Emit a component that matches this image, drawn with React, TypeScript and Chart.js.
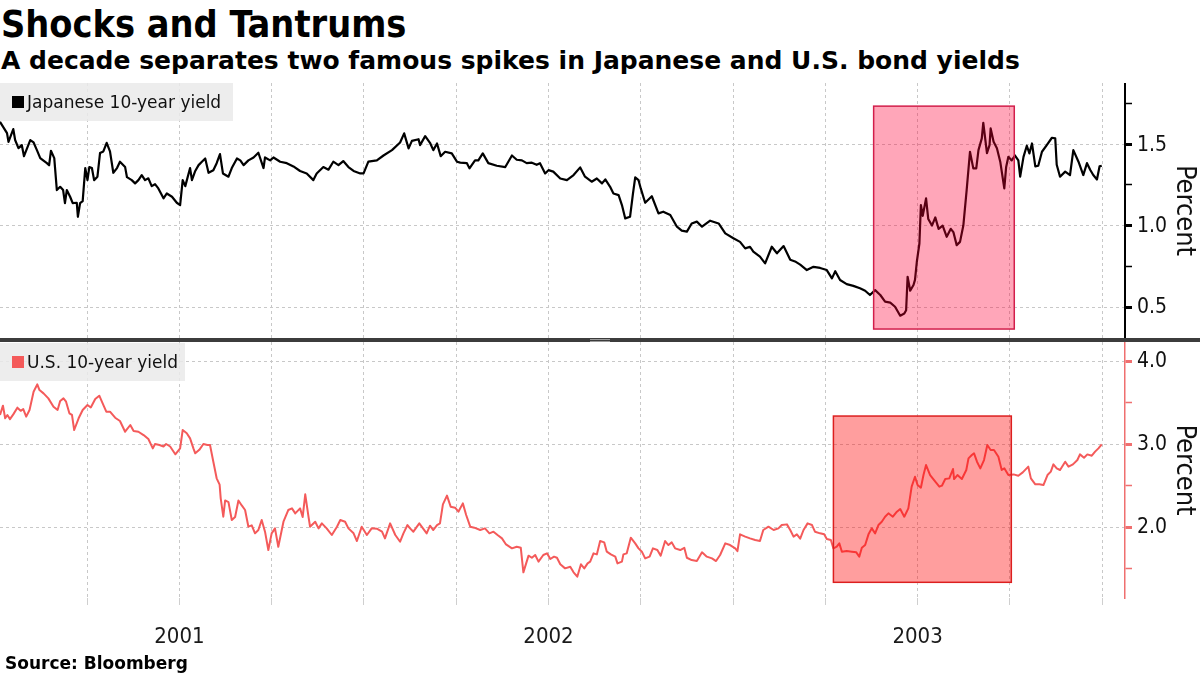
import React, { useEffect, useRef } from "react";
import { Chart, registerables } from "chart.js";

Chart.register(...registerables);

const FONT = '"DejaVu Sans Condensed", "DejaVu Sans", sans-serif';
const FONT_WIDE = '"DejaVu Sans", sans-serif';

// ---- Data (dates as fractional years) ----
const jpDates = [
  2001.014, 2001.033, 2001.037, 2001.05, 2001.055, 2001.064, 2001.073, 2001.079, 2001.096, 2001.105,
  2001.114, 2001.123, 2001.131, 2001.141, 2001.147, 2001.152, 2001.161, 2001.168, 2001.177, 2001.185,
  2001.19, 2001.195, 2001.204, 2001.211, 2001.222, 2001.225, 2001.231, 2001.238, 2001.245, 2001.251,
  2001.256, 2001.263, 2001.269, 2001.278, 2001.285, 2001.294, 2001.303, 2001.312, 2001.321, 2001.331,
  2001.339, 2001.353, 2001.358, 2001.371, 2001.38, 2001.389, 2001.398, 2001.407, 2001.416, 2001.425,
  2001.434, 2001.443, 2001.457, 2001.466, 2001.48, 2001.493, 2001.502, 2001.509, 2001.516, 2001.529,
  2001.534, 2001.543, 2001.552, 2001.561, 2001.57, 2001.579, 2001.592, 2001.601, 2001.61, 2001.618,
  2001.633, 2001.642, 2001.656, 2001.665, 2001.674, 2001.687, 2001.701, 2001.714, 2001.728, 2001.732,
  2001.746, 2001.755, 2001.773, 2001.791, 2001.809, 2001.827, 2001.845, 2001.863, 2001.872, 2001.89,
  2001.904, 2001.917, 2001.931, 2001.944, 2001.958, 2001.972, 2001.99, 2001.999, 2002.012, 2002.035,
  2002.053, 2002.076, 2002.098, 2002.109, 2002.121, 2002.13, 2002.148, 2002.152, 2002.166, 2002.179,
  2002.188, 2002.198, 2002.208, 2002.22, 2002.238, 2002.252, 2002.261, 2002.279, 2002.286, 2002.301,
  2002.31, 2002.322, 2002.337, 2002.36, 2002.383, 2002.401, 2002.414, 2002.428, 2002.441, 2002.455,
  2002.468, 2002.477, 2002.491, 2002.5, 2002.513, 2002.532, 2002.55, 2002.568, 2002.586, 2002.599,
  2002.617, 2002.631, 2002.645, 2002.654, 2002.667, 2002.676, 2002.69, 2002.699, 2002.708, 2002.721,
  2002.729, 2002.735, 2002.744, 2002.75, 2002.762, 2002.78, 2002.798, 2002.811, 2002.83, 2002.848,
  2002.861, 2002.875, 2002.888, 2002.902, 2002.916, 2002.938, 2002.961, 2002.979, 2003.001, 2003.019,
  2003.033, 2003.046, 2003.055, 2003.073, 2003.087, 2003.105, 2003.119, 2003.137, 2003.155, 2003.168,
  2003.182, 2003.2, 2003.218, 2003.236, 2003.254, 2003.268, 2003.277, 2003.29, 2003.308, 2003.326,
  2003.344, 2003.358, 2003.371, 2003.385, 2003.399, 2003.412, 2003.426, 2003.439, 2003.453, 2003.464,
  2003.469, 2003.473, 2003.48, 2003.489, 2003.493, 2003.498, 2003.505, 2003.509, 2003.514, 2003.523,
  2003.529, 2003.539, 2003.548, 2003.557, 2003.568, 2003.579, 2003.59, 2003.597, 2003.606, 2003.615,
  2003.624, 2003.633, 2003.642, 2003.651, 2003.659, 2003.665, 2003.674, 2003.678, 2003.688, 2003.695,
  2003.698, 2003.706, 2003.715, 2003.724, 2003.735, 2003.74, 2003.746, 2003.755, 2003.764, 2003.773,
  2003.778, 2003.787, 2003.796, 2003.803, 2003.81, 2003.819, 2003.827, 2003.837, 2003.85, 2003.864,
  2003.873, 2003.877, 2003.886, 2003.9, 2003.913, 2003.922, 2003.936, 2003.949, 2003.959, 2003.968,
  2003.976, 2003.986, 2003.993, 2003.999,
];
const jpYield = [
  1.637, 1.567, 1.514, 1.592, 1.525, 1.475, 1.494, 1.426, 1.525, 1.51,
  1.463, 1.414, 1.4, 1.383, 1.37, 1.459, 1.414, 1.218, 1.238, 1.218,
  1.138, 1.218, 1.177, 1.138, 1.14, 1.054, 1.138, 1.15, 1.353, 1.279,
  1.359, 1.353, 1.279, 1.3, 1.445, 1.455, 1.508, 1.455, 1.324, 1.353,
  1.392, 1.359, 1.297, 1.279, 1.259, 1.279, 1.31, 1.279, 1.29, 1.242,
  1.254, 1.228, 1.167, 1.197, 1.177, 1.14, 1.126, 1.279, 1.242, 1.353,
  1.279, 1.335, 1.371, 1.392, 1.412, 1.324, 1.34, 1.383, 1.439, 1.32,
  1.3, 1.353, 1.412, 1.4, 1.371, 1.4, 1.418, 1.447, 1.353, 1.418,
  1.4, 1.418, 1.392, 1.383, 1.363, 1.335, 1.32, 1.279, 1.32, 1.359,
  1.343, 1.392, 1.371, 1.396, 1.359, 1.335, 1.32, 1.32, 1.392, 1.4,
  1.43, 1.463, 1.51, 1.566, 1.474, 1.52, 1.53, 1.494, 1.549, 1.508,
  1.463, 1.504, 1.426, 1.453, 1.443, 1.392, 1.386, 1.383, 1.351, 1.4,
  1.4, 1.443, 1.383, 1.367, 1.359, 1.43, 1.404, 1.4, 1.383, 1.386,
  1.373, 1.383, 1.32, 1.34, 1.331, 1.289, 1.279, 1.31, 1.357, 1.3,
  1.269, 1.289, 1.259, 1.283, 1.238, 1.197, 1.187, 1.126, 1.044, 1.054,
  1.197, 1.296, 1.279, 1.228, 1.14, 1.18, 1.075, 1.085, 1.065, 0.993,
  0.969, 0.963, 1.013, 1.024, 0.993, 1.03, 1.013, 0.952, 0.922, 0.9,
  0.86, 0.87, 0.84, 0.809, 0.768, 0.87, 0.83, 0.874, 0.79, 0.78,
  0.76, 0.727, 0.747, 0.74, 0.727, 0.676, 0.72, 0.666, 0.641, 0.63,
  0.615, 0.6, 0.574, 0.604, 0.574, 0.533, 0.527, 0.502, 0.447, 0.46,
  0.48, 0.686, 0.6, 0.635, 0.667, 0.778, 0.89, 1.126, 1.06, 1.167,
  1.04, 1.0, 1.05, 0.98, 1.0, 0.931, 0.98, 0.96, 0.88, 0.9,
  1.0, 1.218, 1.453, 1.351, 1.351, 1.463, 1.535, 1.631, 1.445, 1.494,
  1.596, 1.514, 1.474, 1.392, 1.228, 1.36, 1.422, 1.4, 1.43, 1.4,
  1.3, 1.422, 1.49, 1.443, 1.504, 1.363, 1.367, 1.453, 1.494, 1.539,
  1.535, 1.373, 1.3, 1.331, 1.31, 1.463, 1.392, 1.31, 1.383, 1.341,
  1.31, 1.283, 1.363, 1.367,
];

const usDates = [
  2001.014, 2001.022, 2001.028, 2001.034, 2001.041, 2001.05, 2001.061, 2001.07, 2001.077, 2001.085,
  2001.094, 2001.105, 2001.115, 2001.121, 2001.132, 2001.145, 2001.159, 2001.17, 2001.177, 2001.186,
  2001.193, 2001.202, 2001.209, 2001.215, 2001.227, 2001.238, 2001.251, 2001.26, 2001.272, 2001.283,
  2001.293, 2001.302, 2001.312, 2001.326, 2001.339, 2001.353, 2001.367, 2001.376, 2001.389, 2001.403,
  2001.416, 2001.428, 2001.434, 2001.446, 2001.457, 2001.464, 2001.475, 2001.489, 2001.502, 2001.509,
  2001.52, 2001.529, 2001.538, 2001.543, 2001.554, 2001.565, 2001.576, 2001.583, 2001.592, 2001.601,
  2001.609, 2001.612, 2001.619, 2001.624, 2001.633, 2001.642, 2001.651, 2001.66, 2001.669, 2001.678,
  2001.687, 2001.696, 2001.705, 2001.714, 2001.723, 2001.732, 2001.741, 2001.75, 2001.759, 2001.768,
  2001.782, 2001.795, 2001.805, 2001.814, 2001.827, 2001.834, 2001.841, 2001.85, 2001.854, 2001.868,
  2001.877, 2001.886, 2001.899, 2001.913, 2001.927, 2001.936, 2001.949, 2001.958, 2001.972, 2001.981,
  2001.994, 2002.008, 2002.021, 2002.035, 2002.049, 2002.057, 2002.071, 2002.085, 2002.098, 2002.107,
  2002.118, 2002.125, 2002.134, 2002.15, 2002.16, 2002.17, 2002.179, 2002.188, 2002.198, 2002.206,
  2002.214, 2002.225, 2002.235, 2002.247, 2002.256, 2002.268, 2002.277, 2002.288, 2002.299, 2002.315,
  2002.328, 2002.34, 2002.351, 2002.362, 2002.374, 2002.385, 2002.401, 2002.414, 2002.425, 2002.432,
  2002.446, 2002.455, 2002.464, 2002.473, 2002.486, 2002.496, 2002.505, 2002.515, 2002.523, 2002.532,
  2002.545, 2002.559, 2002.568, 2002.578, 2002.588, 2002.597, 2002.606, 2002.613, 2002.622, 2002.631,
  2002.64, 2002.651, 2002.658, 2002.669, 2002.681, 2002.687, 2002.699, 2002.703, 2002.712, 2002.723,
  2002.735, 2002.744, 2002.753, 2002.762, 2002.774, 2002.783, 2002.795, 2002.804, 2002.816, 2002.825,
  2002.834, 2002.843, 2002.857, 2002.868, 2002.875, 2002.888, 2002.902, 2002.916, 2002.929, 2002.943,
  2002.954, 2002.965, 2002.979, 2002.992, 2003.006, 2003.012, 2003.019, 2003.033, 2003.046, 2003.06,
  2003.073, 2003.082, 2003.096, 2003.11, 2003.123, 2003.132, 2003.146, 2003.155, 2003.164, 2003.173,
  2003.182, 2003.191, 2003.202, 2003.214, 2003.222, 2003.236, 2003.247, 2003.254, 2003.265, 2003.272,
  2003.281, 2003.288, 2003.295, 2003.308, 2003.322, 2003.334, 2003.342, 2003.349, 2003.358, 2003.367,
  2003.376, 2003.385, 2003.394, 2003.403, 2003.412, 2003.421, 2003.433, 2003.444, 2003.453, 2003.464,
  2003.475, 2003.484, 2003.493, 2003.5, 2003.509, 2003.516, 2003.523, 2003.534, 2003.548, 2003.559,
  2003.566, 2003.575, 2003.586, 2003.596, 2003.599, 2003.608, 2003.62, 2003.632, 2003.638, 2003.647,
  2003.653, 2003.661, 2003.67, 2003.68, 2003.689, 2003.698, 2003.707, 2003.719, 2003.728, 2003.735,
  2003.746, 2003.76, 2003.773, 2003.785, 2003.8, 2003.807, 2003.819, 2003.83, 2003.841, 2003.852,
  2003.861, 2003.868, 2003.877, 2003.886, 2003.9, 2003.909, 2003.921, 2003.933, 2003.94, 2003.951,
  2003.96, 2003.972, 2003.981, 2003.99, 2003.999,
];
const usYield = [
  3.349, 3.462, 3.31, 3.349, 3.3, 3.357, 3.438, 3.4, 3.42, 3.33,
  3.41, 3.63, 3.719, 3.65, 3.61, 3.55, 3.45, 3.41, 3.518, 3.55,
  3.51, 3.37, 3.35, 3.169, 3.31, 3.41, 3.47, 3.44, 3.542, 3.582,
  3.48, 3.39, 3.39, 3.317, 3.277, 3.148, 3.229, 3.157, 3.148, 3.108,
  3.06, 2.948, 3.0, 2.988, 2.97, 3.0, 2.97, 2.876, 2.948, 3.169,
  3.13, 3.068, 2.948, 2.888, 2.93, 3.0, 2.988, 2.988, 2.787, 2.587,
  2.51, 2.346, 2.124, 2.32, 2.3, 2.084, 2.12, 2.32, 2.26, 2.205,
  2.004, 2.02, 1.924, 1.964, 2.084, 1.944, 1.723, 1.924, 1.984, 1.763,
  2.064, 2.205, 2.225, 2.165, 2.225, 2.12, 2.394, 2.12, 2.004, 2.064,
  1.984, 2.044, 1.984, 1.904, 2.004, 2.084, 2.064, 1.984, 1.924, 1.831,
  2.004, 1.904, 1.984, 1.98, 1.944, 1.863, 2.044, 1.904, 1.823, 1.924,
  2.024, 1.984, 1.944, 2.044, 1.984, 1.924, 2.016, 1.964, 2.024, 2.044,
  2.273, 2.378, 2.245, 2.233, 2.185, 2.285, 2.145, 2.004, 1.992, 1.964,
  1.984, 1.924, 1.944, 1.904, 1.863, 1.79, 1.743, 1.763, 1.75, 1.454,
  1.655, 1.63, 1.663, 1.583, 1.663, 1.683, 1.615, 1.643, 1.63, 1.551,
  1.502, 1.522, 1.454, 1.402, 1.551, 1.502, 1.562, 1.583, 1.683, 1.67,
  1.831, 1.815, 1.703, 1.67, 1.643, 1.562, 1.583, 1.67, 1.683, 1.871,
  1.803, 1.743, 1.703, 1.622, 1.643, 1.743, 1.723, 1.655, 1.831, 1.783,
  1.815, 1.743, 1.723, 1.75, 1.63, 1.602, 1.59, 1.695, 1.643, 1.622,
  1.59, 1.663, 1.803, 1.783, 1.743, 1.71, 1.912, 1.884, 1.863, 1.843,
  1.831, 1.964, 2.004, 1.964, 1.984, 2.024, 2.032, 1.964, 1.884, 1.912,
  1.86, 1.964, 2.044, 2.024, 1.944, 1.924, 1.912, 1.855, 1.843, 1.743,
  1.763, 1.803, 1.703, 1.71, 1.703, 1.695, 1.643, 1.75, 1.783, 1.912,
  1.984, 1.924, 2.024, 2.064, 2.124, 2.165, 2.124, 2.185, 2.217, 2.124,
  2.225, 2.486, 2.606, 2.506, 2.474, 2.626, 2.747, 2.626, 2.546, 2.486,
  2.498, 2.578, 2.586, 2.699, 2.578, 2.626, 2.578, 2.687, 2.827, 2.867,
  2.888, 2.787, 2.707, 2.807, 2.988, 2.928, 2.928, 2.847, 2.687, 2.707,
  2.626, 2.634, 2.618, 2.658, 2.727, 2.586, 2.514, 2.514, 2.506, 2.626,
  2.667, 2.755, 2.707, 2.687, 2.787, 2.727, 2.755, 2.807, 2.875, 2.835,
  2.875, 2.859, 2.908, 2.948, 2.996,
];

// ---- Axes ----
const xRange = [2001.014, 2004.062];
const quarterTicks = [
  2001.25, 2001.5, 2001.75, 2002.0, 2002.25, 2002.5, 2002.75, 2003.0, 2003.25, 2003.5, 2003.75, 2004.0,
];
const jpRange = [0.31, 1.875];
const jpTicks = [0.5, 0.75, 1.0, 1.25, 1.5, 1.75];
const usRange = [1.145, 4.229];
const usTicks = [1.5, 2.0, 2.5, 3.0, 3.5, 4.0];

// ---- Highlighted episodes ----
const jpShockDates = [2003.381, 2003.762];
const jpShockRange = [0.365, 1.733];
const usTantrumDates = [2003.272, 2003.754];
const usTantrumRange = [1.334, 3.337];

const JP_COLOR = "#000000";
const US_COLOR = "#f45a5a";

function highlightPlugin(id: string, dates: number[], range: number[], fill: string, stroke: string) {
  return {
    id,
    afterDatasetsDraw(chart: any) {
      const { ctx, scales } = chart;
      const x1 = scales.x.getPixelForValue(dates[0]);
      const x2 = scales.x.getPixelForValue(dates[1]);
      const y1 = scales.y.getPixelForValue(range[1]);
      const y2 = scales.y.getPixelForValue(range[0]);
      ctx.save();
      ctx.fillStyle = fill;
      ctx.fillRect(x1, y1, x2 - x1, y2 - y1);
      ctx.strokeStyle = stroke;
      ctx.lineWidth = 1.5;
      ctx.strokeRect(x1, y1, x2 - x1, y2 - y1);
      ctx.restore();
    },
  };
}

const isHalfStep = (v: number) => Math.abs(v * 2 - Math.round(v * 2)) < 1e-6;
const isWhole = (v: number) => Math.abs(v - Math.round(v)) < 1e-6;

function xScale(showLabels: boolean) {
  return {
    type: "linear",
    min: xRange[0],
    max: xRange[1],
    afterBuildTicks: (s: any) => {
      s.ticks = quarterTicks.map((v) => ({ value: v }));
    },
    ticks: {
      display: showLabels,
      autoSkip: false,
      maxRotation: 0,
      minRotation: 0,
      padding: 19,
      color: "#1a1a1a",
      font: { family: FONT, size: 22 },
      callback: (v: any) => {
        const n = Number(v);
        return Math.abs(n - Math.floor(n) - 0.5) < 1e-6 ? String(Math.floor(n)) : "";
      },
    },
    grid: {
      color: "#c8c8c8",
      lineWidth: 1,
      drawTicks: showLabels,
      tickLength: 7,
      tickColor: "#cfcfcf",
    },
    border: { display: false, dash: [3, 3] },
    afterFit: (s: any) => {
      s.height = showLabels ? 77 : 0;
      s.paddingLeft = 0;
      s.paddingRight = 0;
    },
  };
}

function yScale(range: number[], ticks: number[], isMajor: (v: number) => boolean, axisColor: string, axisWidth: number) {
  return {
    type: "linear",
    position: "right",
    min: range[0],
    max: range[1],
    afterBuildTicks: (s: any) => {
      s.ticks = ticks.map((v) => ({ value: v }));
    },
    ticks: {
      padding: 5,
      color: "#111",
      labelOffset: 1,
      font: { family: FONT, size: 21 },
      callback: (v: any) => (isMajor(Number(v)) ? Number(v).toFixed(1) : ""),
    },
    grid: {
      color: (c: any) => (c.tick && isMajor(c.tick.value) ? "#c8c8c8" : "rgba(0,0,0,0)"),
      lineWidth: 1,
      drawTicks: true,
      tickLength: 7,
      tickColor: axisColor,
      tickWidth: (c: any) => (c.tick && isMajor(c.tick.value) ? 3 : 1.5),
    },
    border: { display: true, color: axisColor, width: axisWidth, dash: [3, 3] },
    title: {
      display: true,
      text: "Percent",
      color: "#111",
      font: { family: FONT, size: 27 },
      padding: { top: 0, bottom: 0 },
    },
    afterFit: (s: any) => {
      s.width = 75;
      s.paddingTop = 0;
      s.paddingBottom = 0;
    },
  };
}

function baseOptions(scales: any) {
  return {
    animation: false,
    responsive: true,
    maintainAspectRatio: false,
    layout: { padding: 0 },
    events: [],
    plugins: { legend: { display: false }, tooltip: { enabled: false } },
    scales,
  };
}

export default function App() {
  const topRef = useRef<HTMLCanvasElement>(null);
  const botRef = useRef<HTMLCanvasElement>(null);

  useEffect(() => {
    Chart.defaults.font.family = FONT;
    const top = new Chart(topRef.current as HTMLCanvasElement, {
      type: "line",
      data: {
        datasets: [
          {
            label: "Japanese 10-year yield",
            data: jpDates.map((d, i) => ({ x: d, y: jpYield[i] })),
            borderColor: JP_COLOR,
            borderWidth: 2.2,
            pointRadius: 0,
            tension: 0,
            borderJoinStyle: "round",
          },
        ],
      },
      options: baseOptions({
        x: xScale(false),
        y: yScale(jpRange, jpTicks, isHalfStep, "#000000", 2),
      }) as any,
      plugins: [highlightPlugin("jpShock", jpShockDates, jpShockRange, "rgba(255,0,55,0.35)", "#d21e4b")],
    } as any);

    const bot = new Chart(botRef.current as HTMLCanvasElement, {
      type: "line",
      data: {
        datasets: [
          {
            label: "U.S. 10-year yield",
            data: usDates.map((d, i) => ({ x: d, y: usYield[i] })),
            borderColor: US_COLOR,
            borderWidth: 2,
            pointRadius: 0,
            tension: 0,
            borderJoinStyle: "round",
          },
        ],
      },
      options: baseOptions({
        x: xScale(true),
        y: yScale(usRange, usTicks, isWhole, "#ef6f6f", 1.5),
      }) as any,
      plugins: [highlightPlugin("usTantrum", usTantrumDates, usTantrumRange, "rgba(255,0,0,0.38)", "#dc1f1f")],
    } as any);

    return () => {
      top.destroy();
      bot.destroy();
    };
  }, []);

  const legendBox = (top: number, width: number, color: string, text: string) => (
    <div
      style={{
        position: "absolute",
        left: 0,
        top,
        width,
        height: 38,
        background: "rgba(234,234,234,0.85)",
        zIndex: 2,
      }}
    >
      <div style={{ position: "absolute", left: 12, top: 13, width: 12, height: 12, background: color }} />
      <div
        style={{
          position: "absolute",
          left: 27,
          top: 0,
          lineHeight: "38px",
          fontSize: 17,
          fontFamily: FONT_WIDE,
          color: "#111",
          whiteSpace: "nowrap",
        }}
      >
        {text}
      </div>
    </div>
  );

  return (
    <div
      style={{
        position: "absolute",
        left: 0,
        top: 0,
        width: 1200,
        height: 675,
        background: "#ffffff",
        overflow: "hidden",
        fontFamily: FONT,
        color: "#000",
      }}
    >
      <div
        style={{
          position: "absolute",
          left: 1,
          top: 3,
          fontSize: 37.5,
          fontWeight: "bold",
          lineHeight: "42px",
          whiteSpace: "nowrap",
        }}
      >
        Shocks and Tantrums
      </div>
      <div
        style={{
          position: "absolute",
          left: 1,
          top: 46,
          fontSize: 25,
          fontFamily: FONT_WIDE,
          fontWeight: "bold",
          lineHeight: "30px",
          whiteSpace: "nowrap",
        }}
      >
        A decade separates two famous spikes in Japanese and U.S. bond yields
      </div>

      <div style={{ position: "absolute", left: 0, top: 83, width: 1200, height: 255 }}>
        <canvas ref={topRef} />
      </div>
      {legendBox(83, 233, JP_COLOR, "Japanese 10-year yield")}

      <div style={{ position: "absolute", left: 0, top: 338, width: 1200, height: 4, background: "#3c3c3c", zIndex: 3 }} />
      <div style={{ position: "absolute", left: 590, top: 339, width: 20, height: 1, background: "#9a9a9a", zIndex: 4 }} />
      <div style={{ position: "absolute", left: 590, top: 341, width: 20, height: 1, background: "#9a9a9a", zIndex: 4 }} />

      <div style={{ position: "absolute", left: 0, top: 342, width: 1200, height: 333 }}>
        <canvas ref={botRef} />
      </div>
      {legendBox(343, 185, US_COLOR, "U.S. 10-year yield")}

      <div
        style={{
          position: "absolute",
          left: 5,
          top: 653,
          fontSize: 17,
          fontFamily: FONT_WIDE,
          fontWeight: "bold",
          lineHeight: "20px",
          whiteSpace: "nowrap",
        }}
      >
        Source: Bloomberg
      </div>
    </div>
  );
}
